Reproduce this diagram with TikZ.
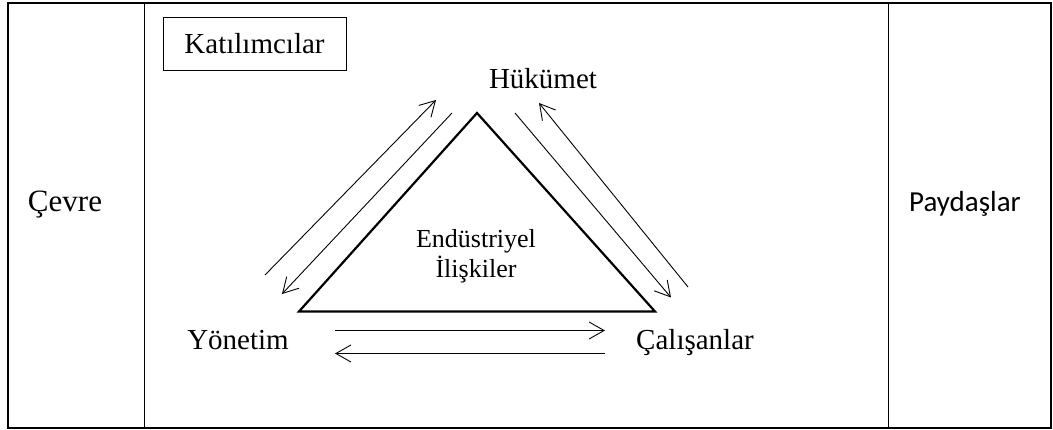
\documentclass[tikz,border=0pt]{standalone}
\usepackage{fontspec}
\setmainfont{Liberation Serif}
\newfontfamily\calibrifont{Carlito}
\usetikzlibrary{arrows.meta}
\begin{document}
\begin{tikzpicture}[x=1pt,y=-1pt,
  txt/.style={inner sep=0pt, anchor=base, font=\rmfamily\fontsize{29}{34}\selectfont},
  smalltxt/.style={inner sep=0pt, anchor=base, font=\rmfamily\fontsize{26}{30}\selectfont},
  frame/.style={line width=1.6pt},
  divider/.style={line width=1pt},
  flow/.style={line width=0.9pt, -{Straight Barb[length=15pt,width=17pt,line width=0.9pt]}},
  core/.style={line width=2.2pt, line join=miter},
]
\useasboundingbox (0,0) rectangle (1053,430);

% outer frame and the three columns
\draw[frame] (8,3) rectangle (1051,428);
\coordinate (dlt) at (144,3);   \coordinate (dlb) at (144,428);
\coordinate (drt) at (888,3);   \coordinate (drb) at (888,428);
\draw[divider] (dlt) -- (dlb);
\draw[divider] (drt) -- (drb);

% column labels
\node[txt, font=\rmfamily\fontsize{31}{36}\selectfont] (cevre) at (65,212) {Çevre};
\node[txt, font=\calibrifont\fontsize{29}{34}\selectfont] (paydas) at (965,211.7) {Paydaşlar};

% participants box
\node[draw, line width=0.9pt, minimum width=183pt, minimum height=53pt, inner sep=0pt,
      font=\rmfamily\fontsize{29}{34}\selectfont] (kat) at (254.5,43.5) {Katılımcılar};

% the triangle of industrial relations
\coordinate (apex) at (477,113);
\coordinate (bl) at (299,311.5);
\coordinate (br) at (655,311.5);
\draw[core] (apex) -- (bl) -- (br) -- cycle;
\node[smalltxt] (ind1) at (476,248) {Endüstriyel};
\node[smalltxt] (ind2) at (476,278) {İlişkiler};

% actors
\node[txt] (hukumet) at (543,89) {Hükümet};
\node[txt] (yonetim) at (238,350) {Yönetim};
\node[txt] (calisan) at (695,350) {Çalışanlar};

% two-way flows between the actors
\coordinate (a1s) at (265,275);   \coordinate (a1e) at (436,100);
\coordinate (a2s) at (452,113);   \coordinate (a2e) at (282,294);
\coordinate (a3s) at (515,113);   \coordinate (a3e) at (671,297.5);
\coordinate (a4s) at (688,287);   \coordinate (a4e) at (539,103);
\coordinate (a5s) at (335,330.5); \coordinate (a5e) at (605,330.5);
\coordinate (a6s) at (605,353.5); \coordinate (a6e) at (335,353.5);
\draw[flow] (a1s) -- (a1e);
\draw[flow] (a2s) -- (a2e);
\draw[flow] (a3s) -- (a3e);
\draw[flow] (a4s) -- (a4e);
\draw[flow] (a5s) -- (a5e);
\draw[flow] (a6s) -- (a6e);
\end{tikzpicture}
\end{document}
